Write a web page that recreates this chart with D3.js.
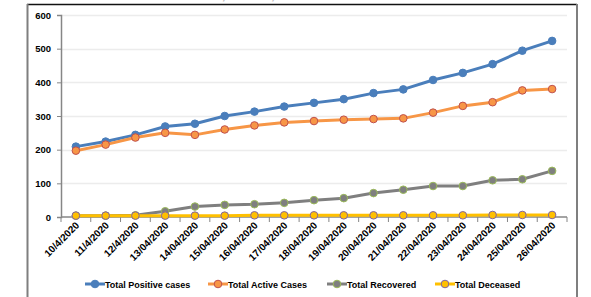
<!DOCTYPE html>
<html>
  <head>
    <meta charset="utf-8">
    <title>Covid cases</title>
    <script src="https://d3js.org/d3.v7.min.js"></script>
    <style>
body { margin: 0; background: #fff; }
svg text { font-family: "Liberation Sans", Arial, sans-serif; font-weight: bold; }
    </style>
  </head>
  <body>
<script>
// dates on the x axis
var dates = ["10/4/2020","11/4/2020","12/4/2020","13/04/2020","14/04/2020","15/04/2020",
  "16/04/2020","17/04/2020","18/04/2020","19/04/2020","20/04/2020","21/04/2020",
  "22/04/2020","23/04/2020","24/04/2020","25/04/2020","26/04/2020"];

var positive  = [209, 224, 244, 269, 277, 300, 313, 328, 339, 350, 368, 379, 407, 428, 454, 494, 523];
var active    = [197, 215, 236, 250, 244, 260, 272, 281, 285, 289, 291, 293, 310, 330, 341, 376, 380];
var recovered = [4, 4, 5, 17, 31, 36, 38, 42, 50, 56, 71, 81, 92, 92, 109, 112, 137];
var deceased  = [4, 4, 4, 4, 4, 4, 5, 5, 5, 5, 5, 5, 5, 5, 6, 6, 6];

var yTicks = [0, 100, 200, 300, 400, 500, 600];

var series = [
  {name: "Total Positive cases", values: positive,  line: "#4a7ebb", fill: "#4a7ebb", stroke: "#4a7ebb", lx: 85},
  {name: "Total Active Cases",   values: active,    line: "#f79646", fill: "#f79646", stroke: "#c0504d", lx: 208},
  {name: "Total Recovered",      values: recovered, line: "#7f7f7f", fill: "#7f7f7f", stroke: "#9bbb59", lx: 327},
  {name: "Total Deceased",       values: deceased,  line: "#ffc000", fill: "#ffc000", stroke: "#8064a2", lx: 435}
];

var width = 591, height = 297,
    plotLeft = 61, plotRight = 567, plotTop = 15, plotBottom = 217;

var svg = d3.select("body").append("svg")
  .attr("width", width)
  .attr("height", height);

// title is cropped off at the top of the picture, only its lowest pixels show
svg.append("text")
  .attr("x", 300).attr("y", -1)
  .attr("text-anchor", "middle")
  .attr("font-size", 14)
  .attr("fill", "#bbb")
  .text("Trend of Positive, Active, Recovered and Deceased cases");

// outer frame
svg.append("line").attr("x1", 27).attr("x2", 577).attr("y1", 4.5).attr("y2", 4.5)
  .attr("stroke", "#111").attr("stroke-width", 1.5);
svg.append("line").attr("x1", 27.5).attr("x2", 27.5).attr("y1", 4).attr("y2", height)
  .attr("stroke", "#7f7f7f").attr("stroke-width", 2);
svg.append("line").attr("x1", 577).attr("x2", 577).attr("y1", 4).attr("y2", height)
  .attr("stroke", "#7f7f7f").attr("stroke-width", 2);

var x = d3.scalePoint().domain(dates).range([plotLeft, plotRight]).padding(0.5);
var band = x.step();
var y = d3.scaleLinear().domain([0, 600]).range([plotBottom, plotTop]);

// gridlines
svg.append("g").selectAll("line").data(yTicks.slice(1)).enter().append("line")
  .attr("x1", plotLeft).attr("x2", plotRight)
  .attr("y1", function(d) { return Math.round(y(d)) + 0.5; })
  .attr("y2", function(d) { return Math.round(y(d)) + 0.5; })
  .attr("stroke", "#ececec").attr("stroke-width", 1.5);

// y axis
var yAxis = svg.append("g")
  .attr("transform", "translate(" + plotLeft + ",0)")
  .call(d3.axisLeft(y).tickValues(yTicks).tickSize(4).tickPadding(6));
yAxis.selectAll("text").attr("font-size", 9.5).attr("fill", "#000");
yAxis.select(".domain").attr("stroke", "#868686").attr("stroke-width", 1.5);
yAxis.selectAll(".tick line").attr("stroke", "#868686");

// x axis: ticks at category boundaries
var xAxis = svg.append("g").attr("transform", "translate(0," + plotBottom + ")");
xAxis.append("line").attr("x1", plotLeft).attr("x2", plotRight).attr("stroke", "#868686").attr("stroke-width", 1.5);
xAxis.selectAll(".tk").data(d3.range(dates.length + 1)).enter().append("line")
  .attr("class", "tk")
  .attr("x1", function(i) { return plotLeft + i * band; })
  .attr("x2", function(i) { return plotLeft + i * band; })
  .attr("y1", 0).attr("y2", 5)
  .attr("stroke", "#868686");
xAxis.selectAll("text").data(dates).enter().append("text")
  .attr("transform", function(d) { return "translate(" + (x(d) + 4) + ",9) rotate(-45)"; })
  .attr("text-anchor", "end")
  .attr("font-size", 10)
  .attr("fill", "#000")
  .text(function(d) { return d; });

var line = d3.line()
  .x(function(d, i) { return x(dates[i]); })
  .y(function(d) { return y(d); });

series.forEach(function(s) {
  var g = svg.append("g");
  g.append("path")
    .attr("d", line(s.values))
    .attr("fill", "none")
    .attr("stroke", s.line)
    .attr("stroke-width", 3);
  g.selectAll("circle").data(s.values).enter().append("circle")
    .attr("cx", function(d, i) { return x(dates[i]); })
    .attr("cy", function(d) { return y(d); })
    .attr("r", 3.8)
    .attr("fill", s.fill)
    .attr("stroke", s.stroke)
    .attr("stroke-width", 1);
});

// legend
var legend = svg.append("g").attr("transform", "translate(0,284)");
series.forEach(function(s) {
  legend.append("line")
    .attr("x1", s.lx).attr("x2", s.lx + 20)
    .attr("stroke", s.line).attr("stroke-width", 3);
  legend.append("circle")
    .attr("cx", s.lx + 10).attr("r", 3.8)
    .attr("fill", s.fill).attr("stroke", s.stroke);
  legend.append("text")
    .attr("x", s.lx + 20).attr("y", 3.5)
    .attr("font-size", 9)
    .attr("fill", "#000")
    .text(s.name);
});
</script>
  </body>
</html>
